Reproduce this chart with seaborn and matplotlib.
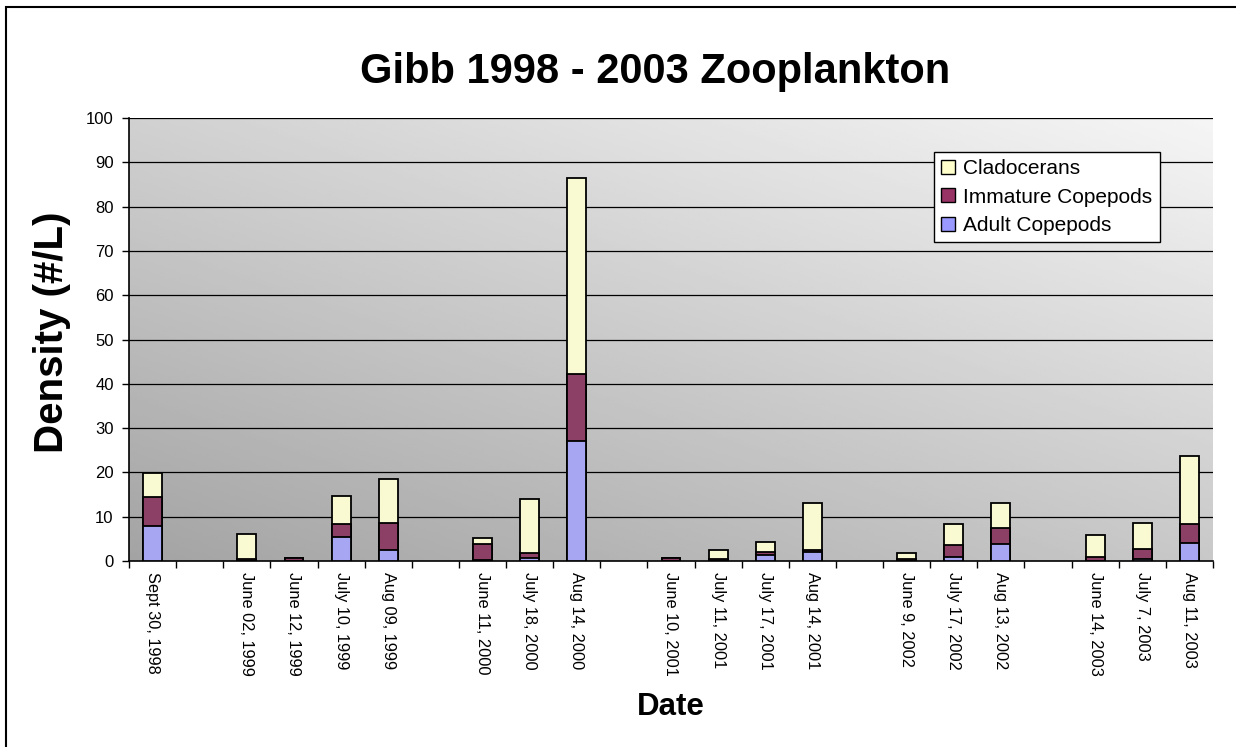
#!/usr/bin/env python3
"""
Stacked bar chart of Gibb Lake zooplankton density (1998 - 2003),
split into adult copepods, immature copepods and cladocerans.
Empty slots separate the sampling years.
"""

import numpy as np
import pandas as pd
import matplotlib
matplotlib.use("Agg")
import matplotlib.pyplot as plt
from matplotlib.patches import Rectangle, Patch
import seaborn as sns

# Sampling dates ("" = gap between years)
dates = ["Sept 30, 1998", "",
         "June 02, 1999", "June 12, 1999", "July 10, 1999", "Aug 09, 1999", "",
         "June 11, 2000", "July 18, 2000", "Aug 14, 2000", "",
         "June 10, 2001", "July 11, 2001", "July 17, 2001", "Aug 14, 2001", "",
         "June 9, 2002", "July 17, 2002", "Aug 13, 2002", "",
         "June 14, 2003", "July 7, 2003", "Aug 11, 2003"]

# Densities (#/L), NaN for the gaps
adult = [7.9, np.nan,
         0.1, 0.05, 5.5, 2.4, np.nan,
         0.3, 0.7, 27.1, np.nan,
         0.1, 0.1, 1.4, 2.0, np.nan,
         0.1, 1.0, 3.8, np.nan,
         0.1, 0.4, 4.1]
immature = [6.5, np.nan,
            0.3, 0.6, 2.8, 6.2, np.nan,
            3.5, 1.1, 15.0, np.nan,
            0.5, 0.4, 0.6, 0.5, np.nan,
            0.3, 2.5, 3.7, np.nan,
            0.9, 2.4, 4.2]
cladocerans = [5.5, np.nan,
               5.8, 0.1, 6.4, 9.9, np.nan,
               1.4, 12.3, 44.3, np.nan,
               0.1, 2.0, 2.2, 10.5, np.nan,
               1.4, 4.8, 5.5, np.nan,
               4.9, 5.8, 15.3]

COLORS = {"Cladocerans": "#FFFFCC",
          "Immature Copepods": "#993366",
          "Adult Copepods": "#9999FF"}

df = pd.DataFrame({"pos": np.arange(len(dates)),
                   "adult": adult, "immature": immature, "clad": cladocerans})
df["adult_top"] = df["adult"]
df["imm_top"] = df["adult"] + df["immature"]
df["clad_top"] = df["imm_top"] + df["clad"]

sns.set_style("white")
plt.rcParams["font.family"] = ["Liberation Sans", "DejaVu Sans"]
plt.rcParams["text.color"] = "black"
plt.rcParams["xtick.color"] = "black"
plt.rcParams["ytick.color"] = "black"
plt.rcParams["axes.labelcolor"] = "black"

W, H = 1236, 747
fig = plt.figure(figsize=(W / 100, H / 100), dpi=100)
fig.patch.set_facecolor("white")

# plot area in pixel coords
left, right, top, bottom = 129, 1213, 118, 561
ax = fig.add_axes([left / W, 1 - bottom / H, (right - left) / W, (bottom - top) / H])

# gray gradient background (dark bottom-left -> light top-right)
gx, gy = np.meshgrid(np.linspace(0, 1, 200), np.linspace(0, 1, 200))
grad = (gx * 0.45 + gy * 0.55)
ax.imshow(grad, extent=[0, 1, 0, 1], transform=ax.transAxes, origin="lower",
          cmap="gray", vmin=-2.0, vmax=1.12, aspect="auto", zorder=0)

# stacked bars: draw totals first, then overlay the lower segments
bar_kw = dict(x="pos", order=list(range(len(dates))), width=0.4,
              edgecolor="black", linewidth=1.3, ax=ax, zorder=3)
sns.barplot(data=df, y="clad_top", color=COLORS["Cladocerans"], **bar_kw)
sns.barplot(data=df, y="imm_top", color=COLORS["Immature Copepods"], **bar_kw)
sns.barplot(data=df, y="adult_top", color=COLORS["Adult Copepods"], **bar_kw)
for p in ax.patches:
    p.set_facecolor(p.get_facecolor()[:3] + (1.0,))

ax.set_xlim(-0.5, len(dates) - 0.5)
ax.set_ylim(0, 100)
ax.set_yticks(np.arange(0, 101, 10))
for yv in np.arange(10, 101, 10):
    ax.axhline(yv, color="black", lw=0.9, zorder=1)

# tick marks at slot boundaries, labels at slot centres
ax.set_xticks(np.arange(-0.5, len(dates), 1.0))
ax.set_xticklabels([])
ax.set_xticks(np.arange(len(dates)), minor=True)
ax.set_xticklabels(dates, minor=True, rotation=-90, fontsize=11.8,
                   va="top", ha="center")
ax.tick_params(axis="x", which="major", direction="out", length=5, width=1,
               color="black", bottom=True)
ax.tick_params(axis="x", which="minor", length=0, pad=8)
ax.tick_params(axis="y", direction="out", length=5, width=1, color="black",
               left=True, labelsize=12, pad=6)
ax.set_xlabel("")
ax.set_ylabel("")

for side in ["left", "bottom"]:
    ax.spines[side].set_color("black")
    ax.spines[side].set_linewidth(1.2)
for side in ["right", "top"]:
    ax.spines[side].set_visible(False)

handles = [Patch(facecolor=c, edgecolor="black", linewidth=1.0, label=k)
           for k, c in COLORS.items()]
leg = ax.legend(handles=handles, loc="upper left",
                bbox_to_anchor=((934 - left) / (right - left), (bottom - 152) / (bottom - top)),
                fontsize=15, frameon=True, fancybox=False, framealpha=1,
                edgecolor="black", borderpad=0.35, labelspacing=0.45,
                handlelength=0.65, handleheight=0.65, handletextpad=0.4,
                borderaxespad=0)
leg.get_frame().set_linewidth(1.0)
leg.set_zorder(5)

fig.text(655 / W, 1 - 72 / H, "Gibb 1998 - 2003 Zooplankton",
         fontsize=30, fontweight="bold", ha="center", va="center")
fig.text(671 / W, 1 - 707 / H, "Date",
         fontsize=22.5, fontweight="bold", ha="center", va="center")
fig.text(52 / W, 1 - 332 / H, "Density (#/L)", rotation=90,
         fontsize=29, fontweight="bold", ha="center", va="center")

# outer chart border (right/bottom edges fall outside the image)
fig.patches.append(Rectangle((6 / W, -0.1), 1.2, 1 - 7 / H + 0.1,
                             transform=fig.transFigure, fill=False,
                             edgecolor="black", lw=1.5))

fig.savefig("out.png", dpi=100)
